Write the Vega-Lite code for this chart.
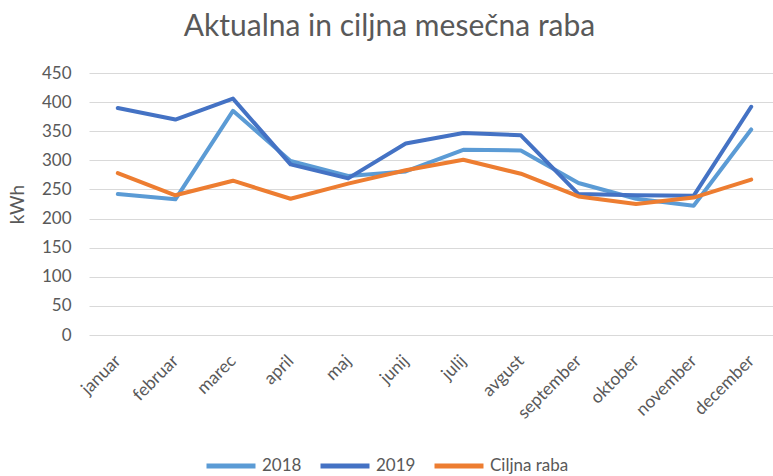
{
  "$schema": "https://vega.github.io/schema/vega-lite/v6.json",
  "autosize": "none",
  "width": 691,
  "height": 262,
  "padding": {"left": 89, "top": 73, "right": 0, "bottom": 141},
  "background": "white",
  "title": {"text": "Aktualna in ciljna mesečna raba", "font": "Lato", "fontSize": 30, "fontWeight": "normal", "color": "#595959", "anchor": "middle", "offset": 22, "frame": "group", "dx": -45},
  "data": {"values": [
    {"mesec": "januar", "serija": "2018", "kwh": 242},
    {"mesec": "februar", "serija": "2018", "kwh": 233},
    {"mesec": "marec", "serija": "2018", "kwh": 385},
    {"mesec": "april", "serija": "2018", "kwh": 299},
    {"mesec": "maj", "serija": "2018", "kwh": 273},
    {"mesec": "junij", "serija": "2018", "kwh": 281},
    {"mesec": "julij", "serija": "2018", "kwh": 318},
    {"mesec": "avgust", "serija": "2018", "kwh": 317},
    {"mesec": "september", "serija": "2018", "kwh": 261},
    {"mesec": "oktober", "serija": "2018", "kwh": 234},
    {"mesec": "november", "serija": "2018", "kwh": 222},
    {"mesec": "december", "serija": "2018", "kwh": 353},
    {"mesec": "januar", "serija": "2019", "kwh": 390},
    {"mesec": "februar", "serija": "2019", "kwh": 370},
    {"mesec": "marec", "serija": "2019", "kwh": 406},
    {"mesec": "april", "serija": "2019", "kwh": 293},
    {"mesec": "maj", "serija": "2019", "kwh": 269},
    {"mesec": "junij", "serija": "2019", "kwh": 329},
    {"mesec": "julij", "serija": "2019", "kwh": 347},
    {"mesec": "avgust", "serija": "2019", "kwh": 343},
    {"mesec": "september", "serija": "2019", "kwh": 242},
    {"mesec": "oktober", "serija": "2019", "kwh": 240},
    {"mesec": "november", "serija": "2019", "kwh": 239},
    {"mesec": "december", "serija": "2019", "kwh": 392},
    {"mesec": "januar", "serija": "Ciljna raba", "kwh": 278},
    {"mesec": "februar", "serija": "Ciljna raba", "kwh": 240},
    {"mesec": "marec", "serija": "Ciljna raba", "kwh": 265},
    {"mesec": "april", "serija": "Ciljna raba", "kwh": 234},
    {"mesec": "maj", "serija": "Ciljna raba", "kwh": 260},
    {"mesec": "junij", "serija": "Ciljna raba", "kwh": 283},
    {"mesec": "julij", "serija": "Ciljna raba", "kwh": 301},
    {"mesec": "avgust", "serija": "Ciljna raba", "kwh": 277},
    {"mesec": "september", "serija": "Ciljna raba", "kwh": 238},
    {"mesec": "oktober", "serija": "Ciljna raba", "kwh": 225},
    {"mesec": "november", "serija": "Ciljna raba", "kwh": 236},
    {"mesec": "december", "serija": "Ciljna raba", "kwh": 267}
  ]},
  "mark": {"type": "line", "strokeWidth": 4, "strokeJoin": "round", "strokeCap": "round"},
  "encoding": {
    "x": {
      "field": "mesec", "type": "nominal",
      "sort": ["januar","februar","marec","april","maj","junij","julij","avgust","september","oktober","november","december"],
      "scale": {"paddingInner": 0, "paddingOuter": 0.5},
      "axis": {"title": null, "labelAngle": -45, "labelAlign": "right", "labelBaseline": "middle", "labelFont": "Lato", "labelFontSize": 17.5, "labelColor": "#595959", "ticks": false, "domain": false, "grid": false, "labelPadding": 23, "labelOverlap": false}
    },
    "y": {
      "field": "kwh", "type": "quantitative",
      "scale": {"domain": [0, 450], "nice": false},
      "axis": {"title": "kWh", "titleFont": "Lato", "titleFontSize": 19, "titleFontWeight": "normal", "titleColor": "#595959", "titlePadding": 14, "values": [0,50,100,150,200,250,300,350,400,450], "labelFont": "Lato", "labelFontSize": 17, "labelColor": "#595959", "ticks": false, "domain": false, "gridColor": "#d9d9d9", "gridWidth": 1.2, "labelPadding": 18}
    },
    "color": {
      "field": "serija", "type": "nominal",
      "scale": {"domain": ["2018", "2019", "Ciljna raba"], "range": ["#5B9BD5", "#4472C4", "#ED7D31"]},
      "legend": {"title": null, "orient": "none", "direction": "horizontal", "legendX": 115, "legendY": 366, "symbolType": "stroke", "symbolSize": 2400, "symbolStrokeWidth": 5, "labelFont": "Lato", "labelFontSize": 17, "labelColor": "#595959", "columnPadding": 8, "labelOffset": 4}
    }
  },
  "config": {"view": {"stroke": null}}
}
